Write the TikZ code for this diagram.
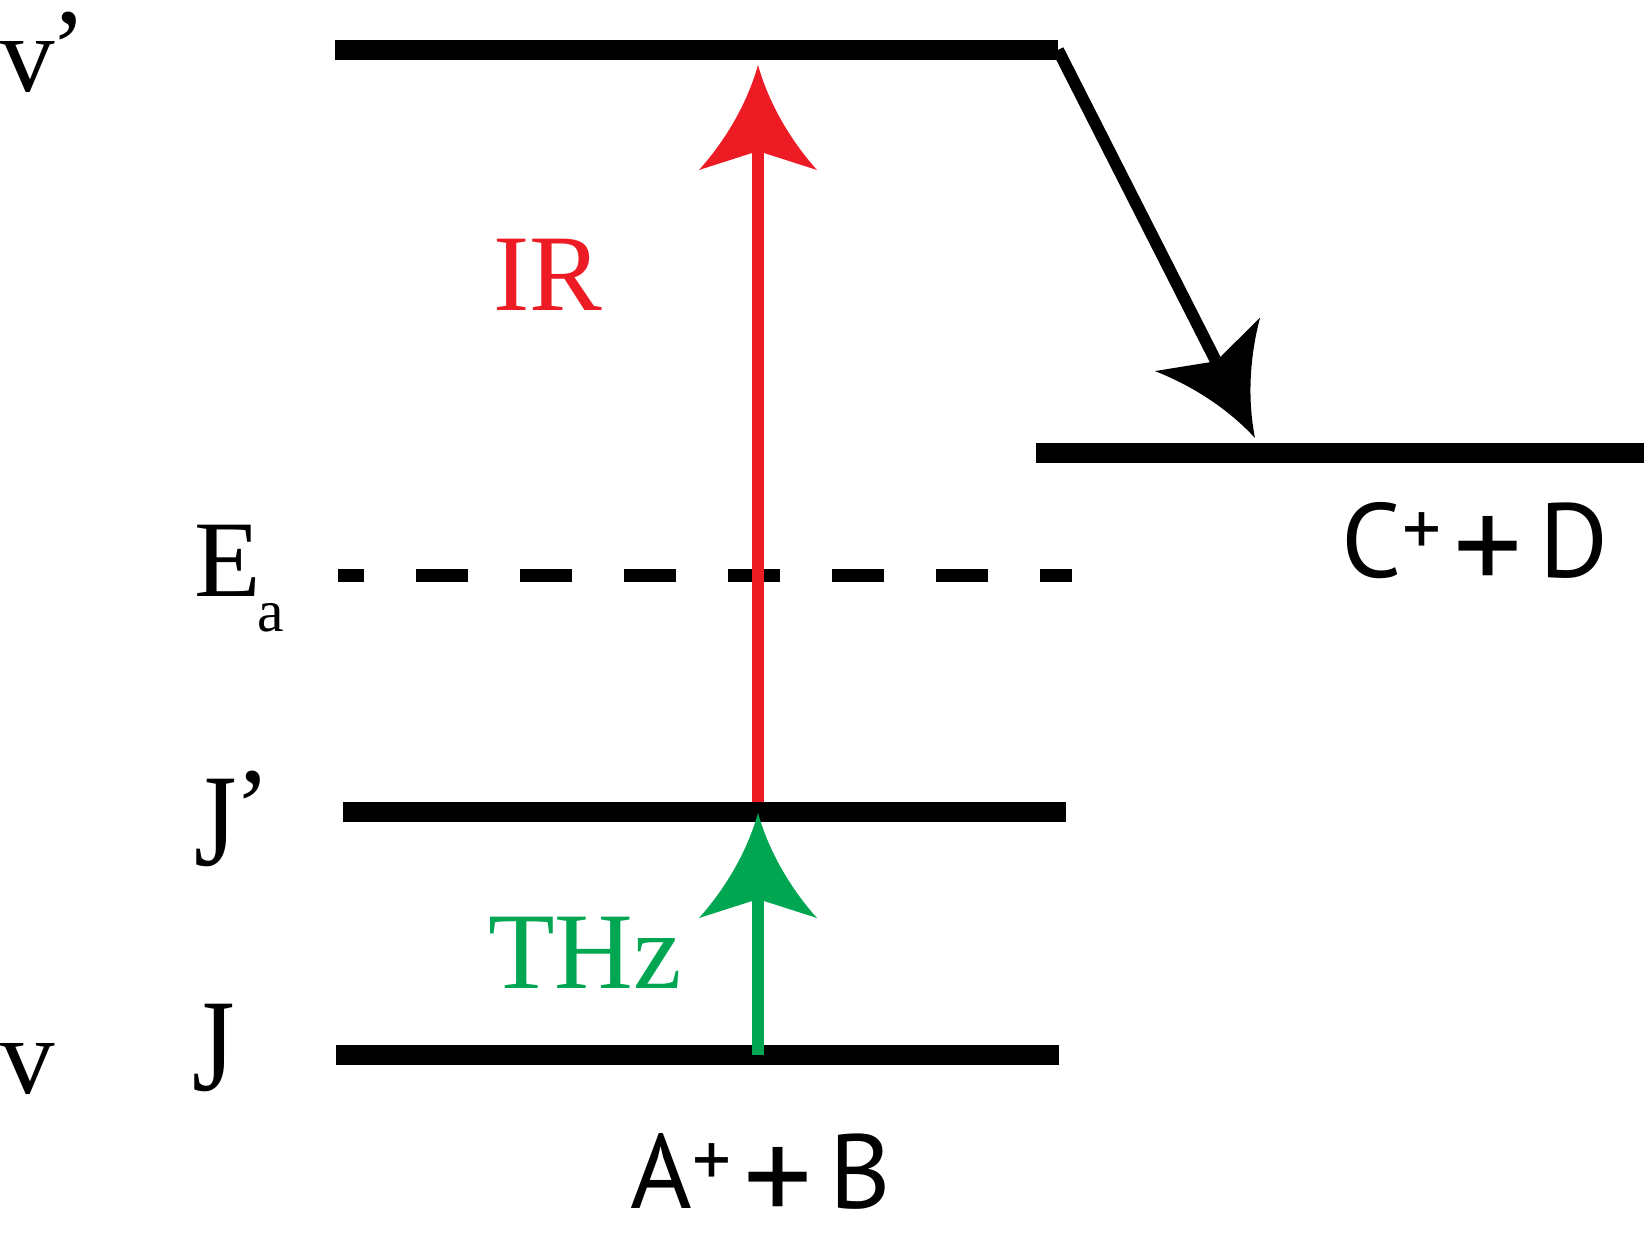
\documentclass[tikz,border=0pt]{standalone}
\usepackage{fontspec}
\setmainfont{Liberation Serif}
\newfontfamily\sansfont{PT Sans}
\usepackage{graphicx}
\usepackage{tikz}
\usetikzlibrary{arrows.meta}
\definecolor{cRed}{HTML}{ED1C24}
\definecolor{cGreen}{HTML}{00A651}
% concave arrow head
\pgfdeclarearrow{
	name = Spire,
	parameters = {\the\pgfarrowlength,\the\pgfarrowwidth},
	setup code = {
		\pgfarrowssettipend{\pgfarrowlength}
		\pgfarrowssetlineend{.35\pgfarrowlength}
		\pgfarrowssavethe\pgfarrowlength
		\pgfarrowssavethe\pgfarrowwidth
	},
	drawing code = {
		\pgfpathmoveto{\pgfqpoint{\pgfarrowlength}{0pt}}
		\pgfpathcurveto{\pgfqpoint{.6\pgfarrowlength}{.1\pgfarrowwidth}}{\pgfqpoint{.25\pgfarrowlength}{.3\pgfarrowwidth}}{\pgfqpoint{0pt}{.5\pgfarrowwidth}}
		\pgfpathlineto{\pgfqpoint{.18\pgfarrowlength}{0pt}}
		\pgfpathlineto{\pgfqpoint{0pt}{-.5\pgfarrowwidth}}
		\pgfpathcurveto{\pgfqpoint{.25\pgfarrowlength}{-.3\pgfarrowwidth}}{\pgfqpoint{.6\pgfarrowlength}{-.1\pgfarrowwidth}}{\pgfqpoint{\pgfarrowlength}{0pt}}
		\pgfpathclose
		\pgfusepathqfill
	},
	defaults = {length=10.5mm, width=11.8mm}
}
\tikzset{
	lvline/.style   ={line width=2mm},
	barrier/.style  ={line width=1.3mm, dash pattern=on 5.2mm off 5.2mm, dash phase=2.6mm},
	photon/.style   ={-{Spire}, line width=1.2mm},
	serif/.style    ={font=\fontsize{31}{31}\selectfont, inner sep=0pt},
	sans/.style     ={font=\sansfont\fontsize{30}{30}\selectfont, inner sep=0pt},
}
\newcommand{\supplus}{\raisebox{2.2mm}{\fontsize{22}{22}\selectfont +}}
\newcommand{\bigplus}{\hspace{1.2mm}\raisebox{-1.5mm}{\scalebox{1.3}{+}}\hspace{1.7mm}}
\newcommand{\tallJ}{\raisebox{-1.5mm}{\scalebox{1}[1.21]{J}}}
\newcommand{\prm}{\raisebox{0.7mm}{’}}

\begin{document}
\begin{tikzpicture}[x=0.1mm, y=-0.1mm]
	\useasboundingbox (0,0) rectangle (1644,1235);
	% level end points
	\coordinate (vp-l) at (335,50);
	\coordinate (vp-r) at (1058,50);
	\coordinate (jp-l) at (343,812);
	\coordinate (jp-r) at (1066,812);
	\coordinate (j-l) at (336,1055);
	\coordinate (j-r) at (1059,1055);
	\coordinate (cd-l) at (1036,453);
	\coordinate (cd-r) at (1644,453);
	\coordinate (ea-l) at (338,576);
	\coordinate (ea-r) at (1072,576);
	% arrow ends
	\coordinate (ir-s) at (758,802);
	\coordinate (ir-t) at (758,65);
	\coordinate (thz-s) at (758,1055);
	\coordinate (thz-t) at (758,813);
	\coordinate (cd-t) at (1255,438);

	\draw[lvline] (vp-l) -- (vp-r);
	\draw[lvline] (jp-l) -- (jp-r);
	\draw[lvline] (j-l) -- (j-r);
	\draw[lvline] (cd-l) -- (cd-r);
	\draw[barrier] (ea-l) -- (ea-r);

	\draw[photon, cRed] (ir-s) -- (ir-t);
	\draw[photon, cGreen] (thz-s) -- (thz-t);
	\draw[photon, black] (vp-r) -- (cd-t);

	% labels
	\node[serif, anchor=base west] (vp-lbl) at (0,92) {v\hspace{-0.5mm}\prm};
	\node[serif, anchor=base west] (v-lbl) at (0,1093) {v};
	\node[serif, anchor=base west] (jp-lbl) at (194,850) {\tallJ\hspace{-0.3mm}\prm};
	\node[serif, anchor=base west] (j-lbl) at (192,1075) {\tallJ};
	\node[serif, anchor=base west] (ea-lbl) at (194,597) {E\hspace{-0.4mm}\raisebox{-3.5mm}{\fontsize{17}{17}\selectfont a}};
	\node[serif, cRed, anchor=base] (ir-lbl) at (548,311) {IR};
	\node[serif, cGreen, anchor=base] (thz-lbl) at (585,988) {THz};
	\node[sans, anchor=base] (ab-lbl) at (761,1208) {A\supplus\bigplus B};
	\node[sans, anchor=base] (cd-lbl) at (1475,578) {C\supplus\bigplus D};
\end{tikzpicture}
\end{document}
